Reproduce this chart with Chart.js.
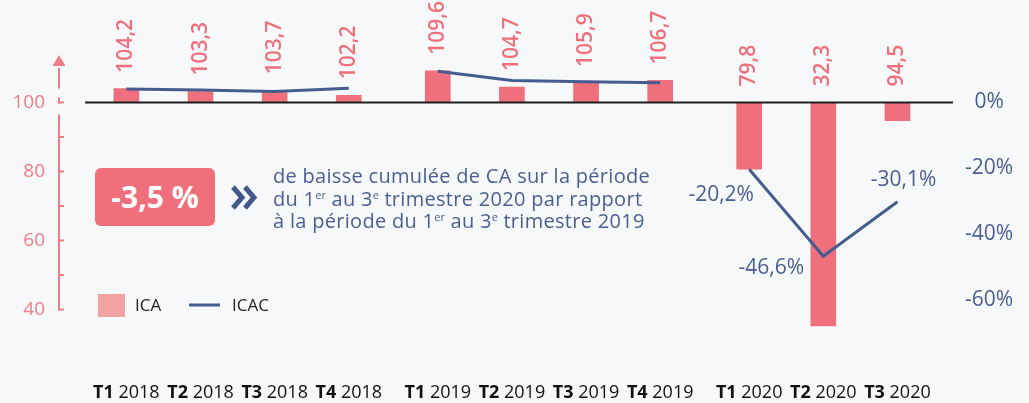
<!DOCTYPE html>
<html lang="fr">
<head>
<meta charset="utf-8">
<title>ICA / ICAC</title>
<script src="https://cdn.jsdelivr.net/npm/chart.js@4.4.1/dist/chart.umd.min.js"></script>
<style>
  html, body { margin: 0; padding: 0; background: #f7f8fa; }
  #wrap { position: relative; width: 1029px; height: 403px; overflow: hidden; }
  #chart { position: absolute; left: 0; top: 0; }
  .callout {
    position: absolute; left: 95px; top: 168px; width: 120px; height: 58px;
    background: #ef6f7c; border-radius: 6px; color: #fff;
    font: 700 30px "Open Sans", sans-serif; line-height: 58px; text-align: center;
  }
  .chevrons { position: absolute; left: 231px; top: 185px; }
  .note {
    position: absolute; left: 273px; top: 165px; margin: 0;
    font: 400 20px "Open Sans", sans-serif; line-height: 22.5px; color: #4a5f90;
    letter-spacing: 0.3px; white-space: nowrap;
  }
  .note sup { font-size: 11px; line-height: 0; vertical-align: 7px; letter-spacing: 0; }
</style>
</head>
<body>
<div id="wrap">
  <canvas id="chart" width="1029" height="403"></canvas>
  <div class="callout">-3,5 %</div>
  <svg class="chevrons" width="27" height="25" viewBox="0 0 27 25">
    <polyline points="2,2 11,12.5 2,23" fill="none" stroke="#43598a" stroke-width="5"/>
    <polyline points="14,2 23,12.5 14,23" fill="none" stroke="#43598a" stroke-width="5"/>
  </svg>
  <p class="note">de baisse cumulée de CA sur la période<br>du 1<sup>er</sup> au 3<sup>e</sup> trimestre 2020 par rapport<br>à la période du 1<sup>er</sup> au 3<sup>e</sup> trimestre 2019</p>
</div>
<script>
// Data
const quarters = ["T1", "T2", "T3", "T4", "T1", "T2", "T3", "T4", "T1", "T2", "T3"];
const years = ["2018", "2018", "2018", "2018", "2019", "2019", "2019", "2019", "2020", "2020", "2020"];
const ica = [104.2, 103.3, 103.7, 102.2, 109.6, 104.7, 105.9, 106.7, 79.8, 32.3, 94.5];
const icac = [4.1, 3.8, 3.3, 4.3, 9.5, 6.7, 6.3, 6.0, -20.2, -46.6, -30.1];
const icacLabels = [null, null, null, null, null, null, null, null, "-20,2%", "-46,6%", "-30,1%"];
const leftTicks = [40, 60, 80, 100];
const rightTicks = [-60, -40, -20, 0];

const PINK = "#ef6f7c";
const BLUE = "#455d8e";
const FONT = '"Open Sans", sans-serif';

// x position: quarter index plus a small gap between years
const YEAR_GAP = 0.2;
const yearList = [...new Set(years)];
const xPos = quarters.map((q, i) => i + yearList.indexOf(years[i]) * YEAR_GAP);

const barData = ica.map((v, i) => ({ x: xPos[i], y: [100, v] }));

// line broken between years
const lineData = [];
icac.forEach((v, i) => {
  if (i > 0 && years[i] !== years[i - 1]) {
    lineData.push({ x: (xPos[i] + xPos[i - 1]) / 2, y: null });
  }
  lineData.push({ x: xPos[i], y: v });
});

// label offsets for the ICAC annotations (px)
const icacLabelOffsets = { 8: [-28, 26], 9: [-52, 12], 10: [6, -22] };

const decor = {
  id: "decor",
  beforeDatasetsDraw(chart) {
    const { ctx, scales } = chart;
    const yl = scales.yLeft;
    const ax = 59;
    const p100 = yl.getPixelForValue(100);
    ctx.save();
    ctx.strokeStyle = "#f07c88";
    ctx.fillStyle = "#f07c88";
    ctx.lineWidth = 2;
    // axis line with a small break around 100
    ctx.beginPath();
    ctx.moveTo(ax, yl.getPixelForValue(110));
    ctx.lineTo(ax, p100 - 14);
    ctx.moveTo(ax, p100 - 5);
    ctx.lineTo(ax, p100 + 1);
    ctx.moveTo(ax, p100 + 12);
    ctx.lineTo(ax, yl.getPixelForValue(40) + 1);
    ctx.stroke();
    // ticks
    for (let v = 40; v <= 100; v += 10) {
      const py = yl.getPixelForValue(v);
      ctx.beginPath();
      ctx.moveTo(ax - 1, py);
      ctx.lineTo(ax + 5, py);
      ctx.stroke();
    }
    // arrow
    const top = yl.getPixelForValue(110);
    ctx.beginPath();
    ctx.moveTo(ax, top - 13);
    ctx.lineTo(ax - 6.5, top - 2);
    ctx.lineTo(ax + 6.5, top - 2);
    ctx.closePath();
    ctx.fill();
    ctx.restore();
  },
  afterDatasetsDraw(chart) {
    const { ctx, chartArea, scales } = chart;
    const y100 = scales.y.getPixelForValue(100);
    ctx.save();
    // baseline
    ctx.strokeStyle = "#1e1e1e";
    ctx.lineWidth = 2;
    ctx.beginPath();
    ctx.moveTo(chartArea.left, y100);
    ctx.lineTo(chartArea.right, y100);
    ctx.stroke();

    // rotated value labels
    ctx.fillStyle = PINK;
    ctx.font = "600 21px " + FONT;
    ctx.textAlign = "left";
    ctx.textBaseline = "middle";
    chart.getDatasetMeta(0).data.forEach((bar, i) => {
      const start = Math.min(bar.y, bar.base) - 16;
      ctx.save();
      ctx.translate(bar.x, start);
      ctx.rotate(-Math.PI / 2);
      ctx.fillText(ica[i].toFixed(1).replace(".", ","), 0, 0);
      ctx.restore();
    });

    // ICAC annotations
    ctx.fillStyle = "#4a5f90";
    ctx.font = "400 21px " + FONT;
    ctx.textAlign = "center";
    icacLabels.forEach((lab, i) => {
      if (!lab) return;
      const off = icacLabelOffsets[i];
      const px = scales.x.getPixelForValue(xPos[i]) + off[0];
      const py = scales.yRight.getPixelForValue(icac[i]) + off[1];
      ctx.fillText(lab, px, py);
    });

    // x labels: bold quarter + regular year
    ctx.fillStyle = "#111";
    ctx.textBaseline = "middle";
    ctx.textAlign = "left";
    quarters.forEach((q, i) => {
      const cx = scales.x.getPixelForValue(xPos[i]);
      ctx.font = "700 18px " + FONT;
      const wq = ctx.measureText(q + " ").width;
      ctx.font = "400 18px " + FONT;
      const wy = ctx.measureText(years[i]).width;
      const x0 = cx - (wq + wy) / 2;
      ctx.font = "700 18px " + FONT;
      ctx.fillText(q + " ", x0, 393);
      ctx.font = "400 18px " + FONT;
      ctx.fillText(years[i], x0 + wq, 393);
    });

    // legend
    ctx.fillStyle = "#f4a3a3";
    ctx.fillRect(98, 294, 27, 23);
    ctx.fillStyle = "#222";
    ctx.font = "400 17px " + FONT;
    ctx.fillText("ICA", 135, 306);
    ctx.strokeStyle = BLUE;
    ctx.lineWidth = 3;
    ctx.beginPath();
    ctx.moveTo(189, 305);
    ctx.lineTo(220, 305);
    ctx.stroke();
    ctx.fillText("ICAC", 232, 306);
    ctx.restore();
  }
};

const ctx = document.getElementById("chart").getContext("2d");
new Chart(ctx, {
  type: "bar",
  data: {
    datasets: [
      {
        type: "bar",
        label: "ICA",
        data: barData,
        backgroundColor: PINK,
        barThickness: 25,
        xAxisID: "x",
        yAxisID: "y",
        order: 2,
      },
      {
        type: "line",
        label: "ICAC",
        data: lineData,
        borderColor: BLUE,
        borderWidth: 3,
        pointRadius: 0,
        tension: 0,
        spanGaps: false,
        xAxisID: "x",
        yAxisID: "yRight",
        order: 1,
      },
    ],
  },
  options: {
    responsive: false,
    animation: false,
    layout: { padding: { top: 20, bottom: 69.5, left: 0, right: 0 } },
    plugins: {
      legend: { display: false },
      tooltip: { enabled: false },
    },
    scales: {
      x: { type: "linear", min: -0.558, max: 11.149, offset: false, display: false },
      y: { min: 30, max: 125, display: false },
      yLeft: {
        position: "left",
        min: 33.04,
        max: 123.9,
        grid: { display: false, drawTicks: false },
        border: { display: false },
        ticks: {
          stepSize: 10,
          padding: 40,
          color: "#f07c88",
          font: { family: FONT, size: 19 },
          callback: (v) => (leftTicks.includes(v) ? v : ""),
        },
        afterFit: (s) => { s.width = 85; s.paddingTop = 0; s.paddingBottom = 0; },
      },
      yRight: {
        position: "right",
        min: -70,
        max: 25,
        grid: { display: false, drawTicks: false },
        border: { display: false },
        ticks: {
          stepSize: 20,
          padding: 12,
          crossAlign: "center",
          color: "#4a5f90",
          font: { family: FONT, size: 21 },
          callback: (v) => (rightTicks.includes(v) ? v + "%" : ""),
        },
        afterFit: (s) => { s.width = 76; s.paddingTop = 0; s.paddingBottom = 0; },
      },
    },
  },
  plugins: [decor],
});
</script>
</body>
</html>
